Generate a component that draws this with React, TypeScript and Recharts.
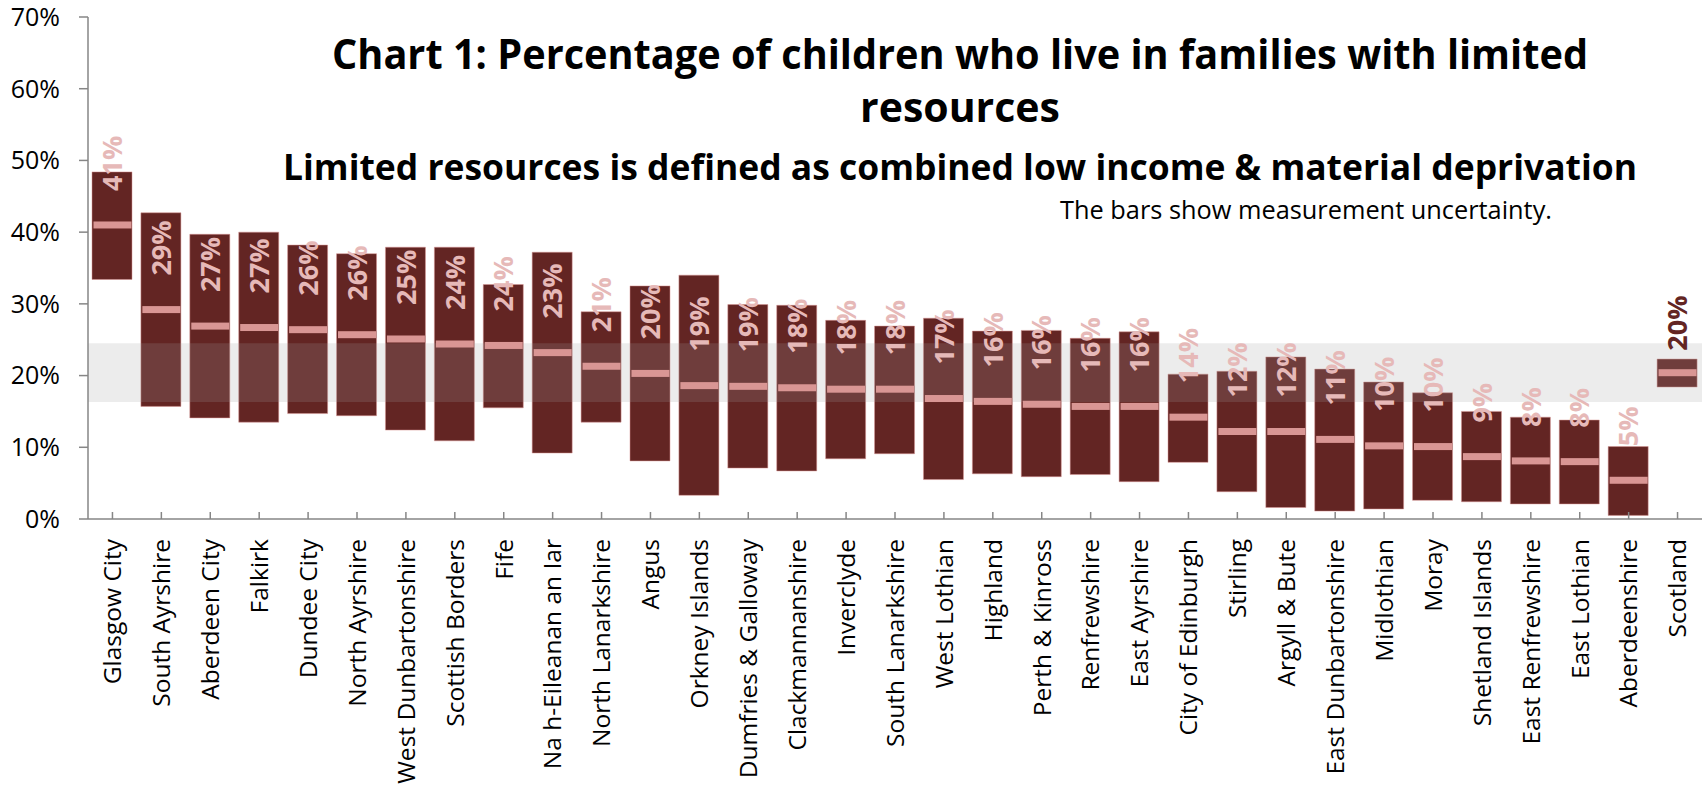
import React from "react";
import {
  ComposedChart,
  Bar,
  Scatter,
  XAxis,
  YAxis,
  ReferenceArea,
} from "recharts";

const categories = [
  "Glasgow City", "South Ayrshire", "Aberdeen City", "Falkirk", "Dundee City",
  "North Ayrshire", "West Dunbartonshire", "Scottish Borders", "Fife",
  "Na h-Eileanan an Iar", "North Lanarkshire", "Angus", "Orkney Islands",
  "Dumfries & Galloway", "Clackmannanshire", "Inverclyde", "South Lanarkshire",
  "West Lothian", "Highland", "Perth & Kinross", "Renfrewshire", "East Ayrshire",
  "City of Edinburgh", "Stirling", "Argyll & Bute", "East Dunbartonshire",
  "Midlothian", "Moray", "Shetland Islands", "East Renfrewshire", "East Lothian",
  "Aberdeenshire", "Scotland",
];

// upper end of the uncertainty range (%)
const highValues = [
  48.4, 42.7, 39.7, 40.0, 38.2, 37.0, 37.9, 37.9, 32.7, 37.2, 28.9, 32.5, 34.0,
  29.9, 29.8, 27.7, 26.9, 28.0, 26.2, 26.3, 25.2, 26.1, 20.2, 20.6, 22.6, 20.9,
  19.1, 17.6, 15.0, 14.2, 13.8, 10.1, 22.3,
];

// point estimate (%)
const estimates = [
  41.0, 29.2, 26.9, 26.7, 26.4, 25.7, 25.1, 24.4, 24.2, 23.2, 21.3, 20.3, 18.6,
  18.5, 18.3, 18.1, 18.1, 16.8, 16.4, 16.0, 15.7, 15.7, 14.2, 12.2, 12.2, 11.1,
  10.2, 10.1, 8.7, 8.1, 8.0, 5.4, 20.4,
];

// lower end of the uncertainty range (%)
const lowValues = [
  33.4, 15.7, 14.1, 13.5, 14.7, 14.4, 12.4, 10.9, 15.5, 9.2, 13.5, 8.1, 3.3,
  7.1, 6.7, 8.4, 9.1, 5.5, 6.3, 5.9, 6.2, 5.2, 7.9, 3.8, 1.6, 1.1, 1.4, 2.6,
  2.4, 2.1, 2.1, 0.5, 18.4,
];

// published rounded figures shown on the chart
const labelValues = [
  41, 29, 27, 27, 26, 26, 25, 24, 24, 23, 21, 20, 19, 19, 18, 18, 18, 17, 16,
  16, 16, 16, 14, 12, 12, 11, 10, 10, 9, 8, 8, 5, 20,
];

const yTicks = [0, 10, 20, 30, 40, 50, 60, 70];
const scotlandRange = [16.3, 24.5];
const totalName = "Scotland";

const data = categories.map((name, i) => ({
  name,
  low: lowValues[i],
  range: highValues[i] - lowValues[i],
  est: estimates[i],
  label: labelValues[i],
}));

const AXIS = "#868686";
const DARK = "#632523";
const MARK = "#d99694";
const LABEL = "#e6b9b8";

const CategoryTick = (props: any) => {
  const { x, y, payload } = props;
  const ty = y + 20;
  return (
    <g>
      <line x1={x} x2={x} y1={y} y2={y - 7} stroke={AXIS} strokeWidth={1.5} />
      <text
        x={x}
        y={ty}
        dy="0.36em"
        textAnchor="end"
        transform={`rotate(-90, ${x}, ${ty})`}
        fontFamily="'Open Sans', sans-serif"
        fontSize={24.5}
        fill="#000"
      >
        {payload.value}
      </text>
    </g>
  );
};

const EstimateMark = (props: any) => {
  const { cx, cy, payload } = props;
  const total = payload.name === totalName;
  const ly = cy - (total ? 22 : 34);
  return (
    <g>
      <rect x={cx - 19} y={cy - 3.5} width={38} height={7} fill={MARK} />
      <text
        x={cx}
        y={ly}
        dy="0.36em"
        textAnchor="start"
        transform={`rotate(-90, ${cx}, ${ly})`}
        fontFamily="'Open Sans', sans-serif"
        fontWeight="bold"
        fontSize={27}
        fill={total ? DARK : LABEL}
      >
        {payload.label + "%"}
      </text>
    </g>
  );
};

export default function App() {
  return (
    <div style={{ position: "absolute", left: 0, top: 0, width: 1708, height: 796, background: "#fff" }}>
      <ComposedChart
        width={1708}
        height={796}
        data={data}
        margin={{ top: 17, right: 6, bottom: 0, left: 0 }}
      >
        <XAxis
          dataKey="name"
          interval={0}
          height={277}
          tick={<CategoryTick />}
          tickLine={false}
          tickSize={0}
          tickMargin={0}
          axisLine={{ stroke: AXIS, strokeWidth: 1.5 }}
        />
        <YAxis
          width={88}
          domain={[0, 70]}
          ticks={yTicks}
          tickFormatter={(v: number) => v + "%"}
          tick={{ fontFamily: "'Open Sans', sans-serif", fontSize: 25, fill: "#000" }}
          tickSize={9}
          tickMargin={19}
          tickLine={{ stroke: AXIS, strokeWidth: 1.5 }}
          axisLine={{ stroke: AXIS, strokeWidth: 1.5 }}
        />
        <Bar dataKey="low" stackId="r" fill="transparent" barSize={40} isAnimationActive={false} />
        <Bar
          dataKey="range"
          stackId="r"
          fill={DARK}
          stroke={MARK}
          strokeOpacity={0.5}
          strokeWidth={1}
          barSize={40}
          isAnimationActive={false}
        />
        <ReferenceArea
          y1={scotlandRange[0]}
          y2={scotlandRange[1]}
          fill="#9e9e9e"
          fillOpacity={0.2}
          stroke="none"
          zIndex={350}
        />
        <Scatter dataKey="est" shape={<EstimateMark />} isAnimationActive={false} />
      </ComposedChart>
      <svg
        width={1708}
        height={796}
        style={{ position: "absolute", left: 0, top: 0, pointerEvents: "none" }}
      >
        <g fontFamily="'Liberation Sans Narrow', 'Open Sans', sans-serif" fontWeight="bold" fill="#000" textAnchor="middle">
          <text x={960} y={69} fontSize={41} textLength={1256} lengthAdjust="spacingAndGlyphs">
            Chart 1: Percentage of children who live in families with limited
          </text>
          <text x={960} y={122} fontSize={41}>
            resources
          </text>
          <text x={960} y={180} fontSize={36} textLength={1354} lengthAdjust="spacingAndGlyphs">
            Limited resources is defined as combined low income &amp; material deprivation
          </text>
        </g>
        <text
          x={1306}
          y={219}
          textAnchor="middle"
          fontFamily="'Liberation Sans Narrow', 'Open Sans', sans-serif"
          fontSize={26}
          fill="#000"
          textLength={492}
          lengthAdjust="spacingAndGlyphs"
        >
          The bars show measurement uncertainty.
        </text>
      </svg>
    </div>
  );
}
